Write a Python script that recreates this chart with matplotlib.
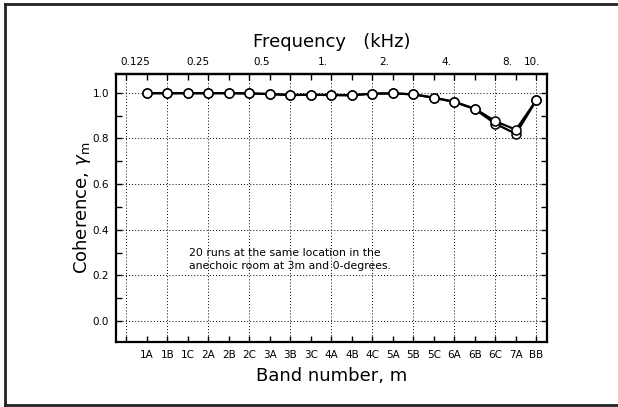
import matplotlib
matplotlib.use("Agg")
import matplotlib.pyplot as plt
from matplotlib.lines import Line2D
import numpy as np

bands = ["1A", "1B", "1C", "2A", "2B", "2C", "3A", "3B", "3C", "4A",
         "4B", "4C", "5A", "5B", "5C", "6A", "6B", "6C", "7A", "BB"]
coh_a = [0.998, 0.998, 0.998, 0.998, 0.998, 0.997, 0.994, 0.990, 0.991, 0.990,
         0.989, 0.996, 0.997, 0.993, 0.978, 0.960, 0.930, 0.875, 0.838, 0.968]
coh_b = [0.998, 0.998, 0.998, 0.998, 0.998, 0.997, 0.994, 0.990, 0.991, 0.990,
         0.989, 0.996, 0.997, 0.993, 0.978, 0.960, 0.928, 0.864, 0.820, 0.968]
freq_labels = ["0.125", "0.25", "0.5", "1.", "2.", "4.", "8.", "10."]
freq_pos = [0.45, 3.5, 6.6, 9.6, 12.6, 15.6, 18.6, 19.8]
note = "20 runs at the same location in the\nanechoic room at 3m and 0-degrees."

plt.rcParams['font.family'] = ['DejaVu Sans']

fig = plt.figure(figsize=(6.18, 4.07), dpi=100)
ax = fig.add_axes([116/618, 1-341.7/407, (546.7-116)/618, (341.7-74)/407])

x = np.arange(1, len(bands)+1)
for ys in (coh_b, coh_a):
    ax.plot(x, ys, color='black', lw=1.6, marker='o', ms=6.5,
            mfc='white', mec='black', mew=1.1, zorder=3)

ax.set_xlim(-0.5, 20.5)
ax.set_ylim(-0.09, 1.082)

ax.set_xticks(x)
ax.set_xticklabels(bands, fontsize=7.5)
ax.set_xticks([0], minor=True)
ax.set_yticks(np.arange(0, 1.01, 0.2))
ax.set_yticklabels([f"{v:.1f}" for v in np.arange(0, 1.01, 0.2)], fontsize=7.5)
ax.set_yticks(np.arange(0, 1.05, 0.1), minor=True)

ax.tick_params(which='both', direction='in', top=True, right=True, width=1.0,
               length=4)
ax.tick_params(axis='y', which='major', pad=5)
ax.tick_params(axis='x', which='major', pad=6)

for v in np.arange(0, 1.01, 0.2):
    ax.axhline(v, color='black', lw=0.7, ls=(0, (1, 2.2)), zorder=1)
for p in range(0, 21, 2):
    ax.axvline(p, color='black', lw=0.7, ls=(0, (1, 2.2)), zorder=1)

for s in ax.spines.values():
    s.set_linewidth(1.6)

ax.set_xlabel("Band number, m", fontsize=13, labelpad=5)
ax.set_ylabel(r"Coherence, $\gamma_{\rm m}$", fontsize=13, labelpad=0)

ax2 = ax.secondary_xaxis('top')
ax2.set_xticks(freq_pos)
ax2.set_xticklabels(freq_labels, fontsize=7.5)
ax2.tick_params(length=0, pad=5)
ax2.set_xlabel("Frequency   (kHz)", fontsize=13, labelpad=7)
for s in ax2.spines.values():
    s.set_linewidth(1.6)

ax.text(3.04, 0.27, note, fontsize=7.8, va='center', ha='left',
        linespacing=1.4)

fx0, fy0, fy1 = 5.3/618, 1-404.5/407, 1-4/407
for xs, ys in (([fx0, fx0], [fy0, fy1]), ([fx0, 1.02], [fy1, fy1]),
               ([fx0, 1.02], [fy0, fy0])):
    fig.add_artist(Line2D(xs, ys, transform=fig.transFigure,
                          color='#222222', lw=2.0))

fig.savefig("out.png", dpi=100)
